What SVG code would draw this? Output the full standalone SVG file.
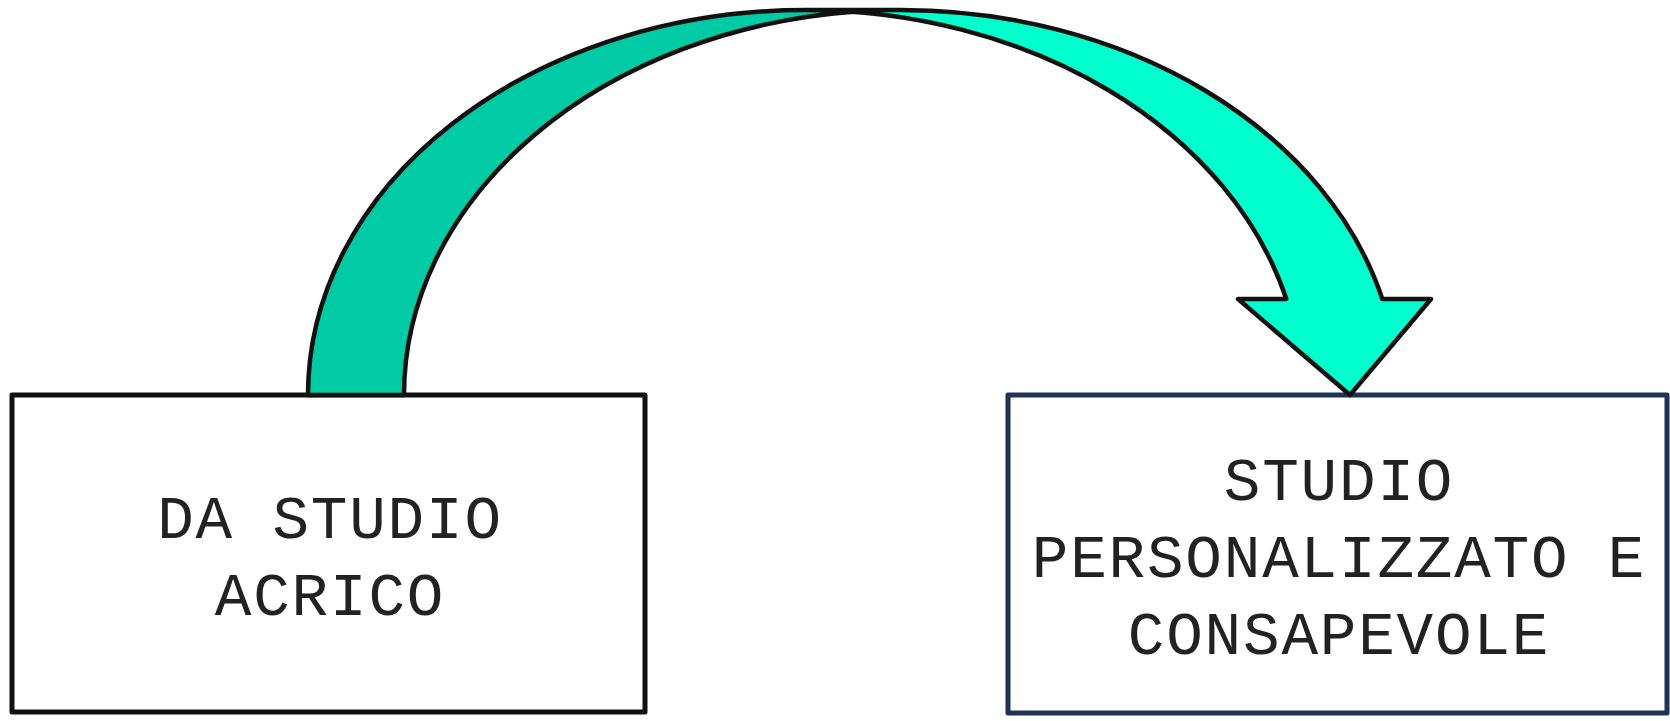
<svg xmlns="http://www.w3.org/2000/svg" width="1670" height="721" viewBox="0 0 1670 721">
  <style>
    .box { fill: #ffffff; stroke-width: 5; stroke-linejoin: round; }
    .lbl { font-family: "Liberation Mono", "DejaVu Sans Mono", monospace; font-size: 61px; letter-spacing: 1.8px; fill: #222222; text-anchor: middle; }
    .edge { stroke: #111111; stroke-width: 4.5; stroke-linejoin: round; fill: none; }
  </style>
  <rect width="1670" height="721" fill="#ffffff"/>
  <g id="node-left">
    <rect class="box" x="12" y="395" width="633" height="317" stroke="#111111"/>
    <text class="lbl" x="330" y="538">DA STUDIO</text>
    <text class="lbl" x="330" y="615">ACRICO</text>
  </g>
  <g id="node-right">
    <rect class="box" x="1008" y="395" width="659" height="318" stroke="#1f3352"/>
    <text class="lbl" x="1339" y="500">STUDIO</text>
    <text class="lbl" x="1339" y="577">PERSONALIZZATO E</text>
    <text class="lbl" x="1339" y="653.5">CONSAPEVOLE</text>
  </g>
  <g id="connectors">
    <path d="M 853 11.8 A 497 385 0 0 0 404 395 L 308 395 A 497 385 0 0 1 853 11.8 Z" fill="#00cba4"/>
    <path d="M 1350 395 L 1238 299 L 1286.3 299 A 497 385 0 0 0 805 10 L 901 10 A 497 385 0 0 1 1382.3 299 L 1431 299 Z" fill="#00ffcc"/>
    <path class="edge" d="M 853 11.8 A 497 385 0 0 0 404 395 L 308 395 A 497 385 0 0 1 805 10 L 901 10 A 497 385 0 0 1 1382.3 299 L 1431 299 L 1350 395 L 1238 299 L 1286.3 299 A 497 385 0 0 0 805 10"/>
  </g>
</svg>
